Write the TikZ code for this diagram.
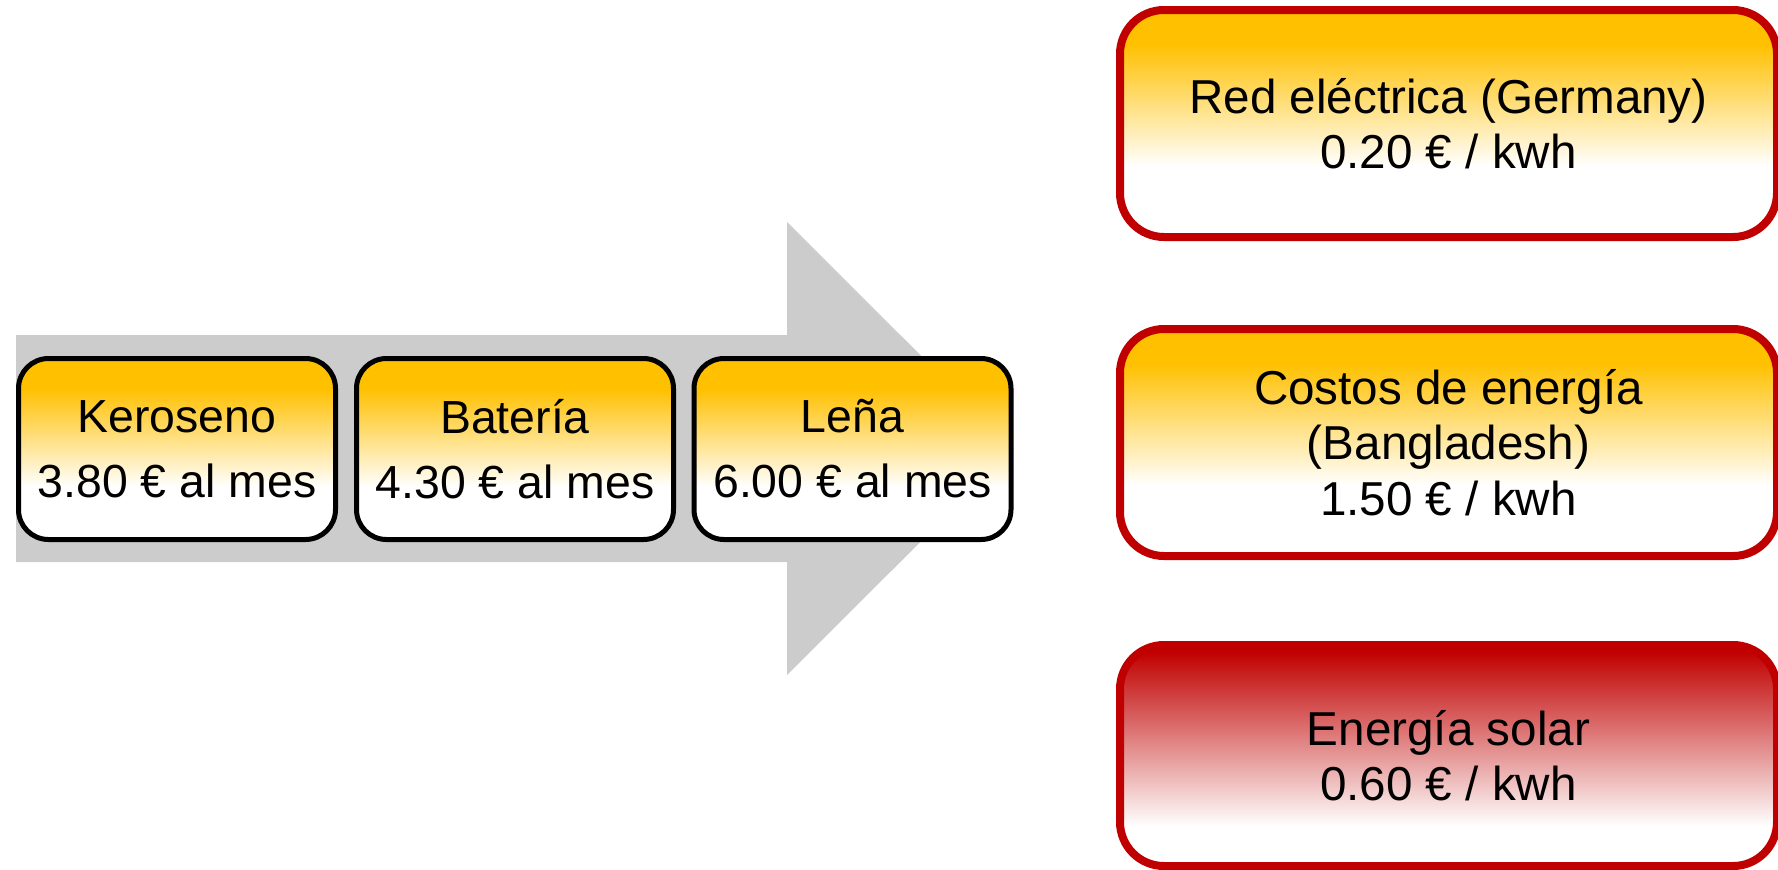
\documentclass[tikz,border=0pt]{standalone}
\usepackage{fontspec}
\setmainfont{Liberation Sans}
\definecolor{orng}{HTML}{FFC000}
\definecolor{dred}{HTML}{C00000}
\definecolor{agray}{HTML}{CCCCCC}
\pgfdeclareverticalshading{ylwleft}{100bp}{color(0bp)=(white); color(39.5bp)=(white); color(66.75bp)=(orng); color(100bp)=(orng)}
\pgfdeclareverticalshading{ylwright}{100bp}{color(0bp)=(white); color(40.5bp)=(white); color(67.5bp)=(orng); color(100bp)=(orng)}
\pgfdeclareverticalshading{redright}{100bp}{color(0bp)=(white); color(34bp)=(white); color(73.5bp)=(dred); color(100bp)=(dred)}
\tikzset{
  costbox/.style={draw=black, line width=2.5pt, rounded corners=15pt, shade, shading=ylwleft,
    minimum width=158.5pt, minimum height=90.5pt, align=center, inner sep=0pt,
    font=\fontsize{23.2}{32.5}\selectfont},
  pricebox/.style={draw=dred, line width=4pt, rounded corners=22pt, shade, shading=ylwright,
    minimum width=328.5pt, minimum height=113.5pt, align=center, inner sep=0pt,
    font=\fontsize{23.8}{27.6}\selectfont},
  solarbox/.style={pricebox, shading=redright, minimum height=110.5pt}
}
\begin{document}
\begin{tikzpicture}[x=0.5pt,y=-0.5pt]
\useasboundingbox (0,0) rectangle (1778,869);
\fill[agray] (16,335) -- (787,335) -- (787,222) -- (1014,448.5) -- (787,675) -- (787,562) -- (16,562) -- cycle;
\node[costbox] (kero) at (177,449) {Keroseno\\3.80 € al mes};
\node[costbox] (bat) at (515,449) {Batería\\4.30 € al mes};
\node[costbox] (lena) at (852.5,449) {Leña\\6.00 € al mes};
\node[pricebox] (red) at (1448.5,123.5) {Red eléctrica (Germany)\\0.20 € / kwh};
\node[pricebox] (cost) at (1448.5,442.5) {Costos de energía\\(Bangladesh)\\1.50 € / kwh};
\node[solarbox] (solar) at (1448.5,755.5) {Energía solar\\0.60 € / kwh};
\end{tikzpicture}
\end{document}
